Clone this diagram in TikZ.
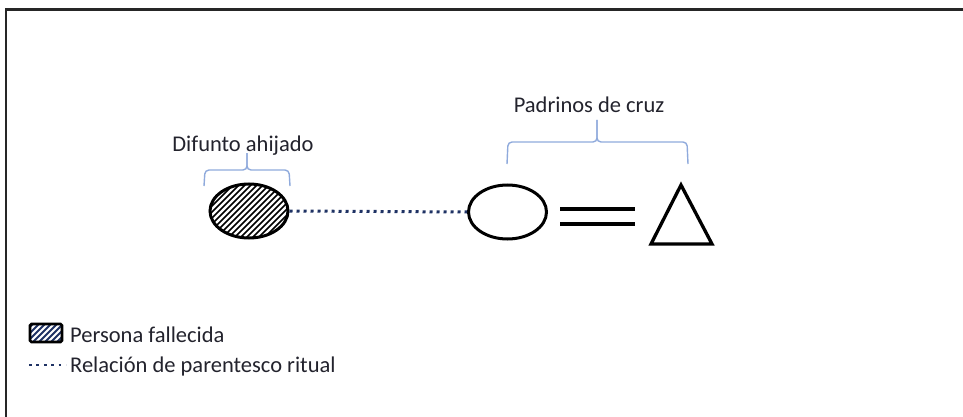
\documentclass[tikz,border=0pt]{standalone}
\usepackage{fontspec}
\setmainfont{Carlito}
\usetikzlibrary{shapes.geometric}
\definecolor{txt}{RGB}{35,35,45}
\definecolor{bracec}{RGB}{143,170,220}
\definecolor{navy}{RGB}{31,50,100}
\begin{document}
\begin{tikzpicture}[x=1pt,y=-1pt,
  lbl/.style={text=txt,font=\fontsize{22.5}{27}\selectfont,inner sep=0},
  person/.style={ellipse,draw=black,line width=3,minimum width=78,minimum height=54,inner sep=0},
  hatch/.style={line width=1.6,black},
  bracket/.style={draw=bracec,line width=1.4,rounded corners=4},
  ritual/.style={draw=navy,line width=3,dash pattern=on 3 off 4},
  shapeline/.style={line width=3.3,black}]
\useasboundingbox (0,0) rectangle (963,417);
% frame
\draw[line width=2.5,black!85] (963,9.5) -- (6,9.5) -- (6,417);
% deceased godchild
\node[person,path picture={
  \foreach \i in {-90,-84,...,90}
    \draw[hatch] ([xshift={\i-35},yshift=-35]path picture bounding box.center) -- ([xshift={\i+35},yshift=35]path picture bounding box.center);
  }] (dead) at (249,211) {};
% godmother
\node[person] (godm) at (507.5,212) {};
% godfather (triangle)
\coordinate (godf) at (681.5,214.5);
\draw[shapeline,line join=miter] (681,185) -- (712,244) -- (651,244) -- cycle;
% ritual kinship
\draw[ritual] (dead.east) -- (godm.west);
% marriage
\coordinate (eqL) at (560,209);
\coordinate (eqR) at (635,209);
\draw[shapeline] (eqL) -- (eqR);
\draw[shapeline] ([yshift=-15]eqL) -- ([yshift=-15]eqR);
% labels and brackets
\node[lbl,anchor=base] (difunto) at (243,151) {Difunto ahijado};
\draw[bracket] (204,186) -- (205,170) -- (247,170) -- (247,153);
\draw[bracket] (247,153) -- (247,170) -- (289,170) -- (290,186);
\node[lbl,anchor=base] (padrinos) at (589,113) {Padrinos de cruz};
\draw[bracket] (507,164) -- (508,142) -- (597,142) -- (597,120);
\draw[bracket] (597,120) -- (597,142) -- (687,142) -- (688,164);
% legend
\node[draw=black,line width=2.8,rounded corners=1.5,minimum width=32,minimum height=18,inner sep=0,
  path picture={
  \foreach \i in {-40,-34,...,40}
    \draw[navy,line width=1.9] ([xshift={\i-12},yshift=-12]path picture bounding box.center) -- ([xshift={\i+12},yshift=12]path picture bounding box.center);
  }] (legbox) at (46,333) {};
\node[lbl,anchor=base west] (leg1) at (70,342) {Persona fallecida};
\coordinate (ld1) at (29,365);
\coordinate (ld2) at (66,365);
\draw[ritual,line width=2.8,dash pattern=on 2.8 off 4.6] (ld1) -- (ld2);
\node[lbl,anchor=base west] (leg2) at (70,372) {Relación de parentesco ritual};
\end{tikzpicture}
\end{document}
